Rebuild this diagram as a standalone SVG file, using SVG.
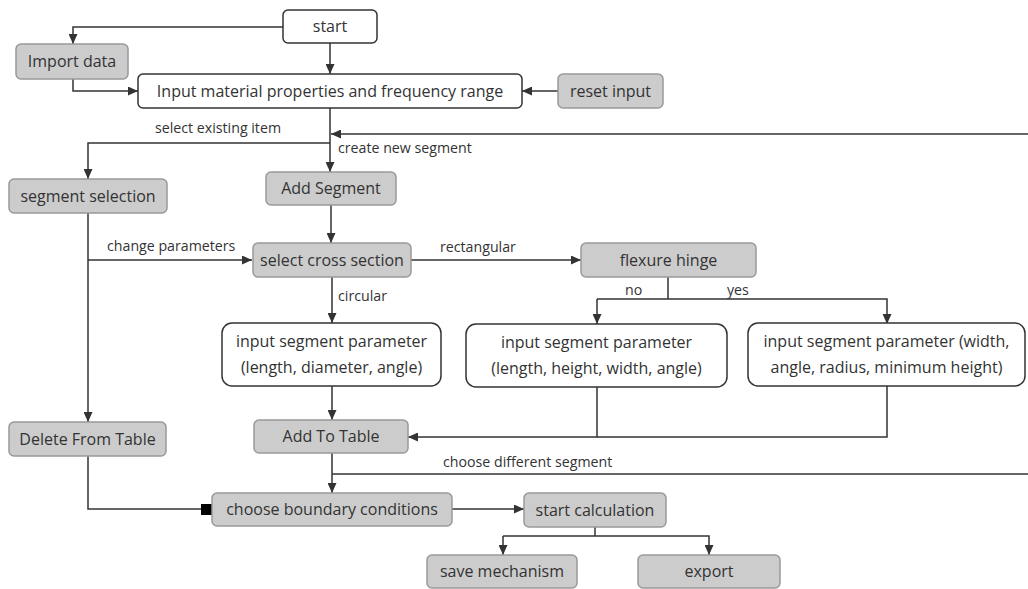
<svg xmlns="http://www.w3.org/2000/svg" width="1028" height="589" viewBox="0 0 1028 589">
<defs>
<style>
.w{fill:#ffffff;stroke:#333333;stroke-width:1.5}
.g{fill:#cccccc;stroke:#999999;stroke-width:1.5}
.t{font-family:"Open Sans","Noto Sans",sans-serif;font-size:16px;fill:#333333;text-anchor:middle}
.l{font-family:"Open Sans","Noto Sans",sans-serif;font-size:14.2px;fill:#333333}
.c{fill:none;stroke:#333333;stroke-width:1.5}
.a{marker-end:url(#arr)}
</style>
<marker id="arr" markerUnits="userSpaceOnUse" markerWidth="10" markerHeight="9" refX="10" refY="4.5" orient="auto">
<path d="M0,0 L10,4.5 L0,9 z" fill="#333333"/>
</marker>
</defs>
<rect width="1028" height="589" fill="#ffffff"/>
<g id="connectors">
<path class="c a" d="M283,27 H73 V44"/>
<path class="c a" d="M330,43 V74"/>
<path class="c a" d="M73,79 V91 H138"/>
<path class="c a" d="M558,91 H522"/>
<path class="c a" d="M330,108 V172"/>
<path class="c a" d="M1028,134 H331"/>
<path class="c a" d="M330,143 H88 V179"/>
<path class="c a" d="M88,213 V422"/>
<path class="c a" d="M88,260 H252"/>
<path class="c a" d="M331,205 V243"/>
<path class="c a" d="M411,260 H581"/>
<path class="c a" d="M332,277 V323"/>
<path class="c" d="M668,277 V299"/>
<path class="c a" d="M597,299 H887 V324"/>
<path class="c a" d="M597,299 V324"/>
<path class="c a" d="M332,386 V420"/>
<path class="c a" d="M597,387 V437 H408"/>
<path class="c" d="M887,386 V437 H597"/>
<path class="c a" d="M332,453 V493"/>
<path class="c" d="M332,474 H1028"/>
<path class="c" d="M88,456 V509 H201"/>
<rect x="201" y="504" width="11" height="11" fill="#000000"/>
<path class="c a" d="M452,509 H524"/>
<path class="c" d="M595,527 V536"/>
<path class="c a" d="M503,536 V555"/>
<path class="c a" d="M503,536 H709 V555"/>
<text class="l" x="155" y="133">select existing item</text>
<text class="l" x="338" y="153">create new segment</text>
<text class="l" x="107" y="251">change parameters</text>
<text class="l" x="440" y="252">rectangular</text>
<text class="l" x="338" y="301">circular</text>
<text class="l" x="625" y="295">no</text>
<text class="l" x="727" y="295">yes</text>
<text class="l" x="443" y="467">choose different segment</text>
</g>
<g id="start"><rect class="w" x="283" y="10" width="94" height="33" rx="5"/><text class="t" x="330" y="32">start</text></g>
<g id="import"><rect class="g" x="16" y="44" width="112" height="35" rx="5"/><text class="t" x="72" y="67">Import data</text></g>
<g id="input"><rect class="w" x="138" y="74" width="384" height="34" rx="5"/><text class="t" x="330" y="96.5">Input material properties and frequency range</text></g>
<g id="reset"><rect class="g" x="558" y="74" width="105" height="34" rx="5"/><text class="t" x="610.5" y="96.5">reset input</text></g>
<g id="segsel"><rect class="g" x="9" y="179" width="158" height="34" rx="5"/><text class="t" x="88" y="201.5">segment selection</text></g>
<g id="addseg"><rect class="g" x="266" y="172" width="130" height="33" rx="5"/><text class="t" x="331" y="194">Add Segment</text></g>
<g id="cross"><rect class="g" x="253" y="243" width="158" height="34" rx="5"/><text class="t" x="332" y="265.5">select cross section</text></g>
<g id="flex"><rect class="g" x="581" y="243" width="175" height="34" rx="5"/><text class="t" x="668.5" y="265.5">flexure hinge</text></g>
<g id="circ"><rect class="w" x="222" y="323" width="219" height="63" rx="10"/><text class="t" x="331.5" y="346.5">input segment parameter</text><text class="t" x="331.5" y="372.5">(length, diameter, angle)</text></g>
<g id="rectno"><rect class="w" x="466" y="324" width="261" height="63" rx="10"/><text class="t" x="596.5" y="347.5">input segment parameter</text><text class="t" x="596.5" y="373.5">(length, height, width, angle)</text></g>
<g id="rectyes"><rect class="w" x="748" y="323" width="277" height="63" rx="10"/><text class="t" x="886.5" y="346.5">input segment parameter (width,</text><text class="t" x="886.5" y="372.5">angle, radius, minimum height)</text></g>
<g id="delete"><rect class="g" x="9" y="422" width="157" height="34" rx="5"/><text class="t" x="87.5" y="444.5">Delete From Table</text></g>
<g id="addtable"><rect class="g" x="254" y="420" width="154" height="33" rx="5"/><text class="t" x="331" y="442">Add To Table</text></g>
<g id="boundary"><rect class="g" x="212" y="493" width="240" height="33" rx="5"/><text class="t" x="332" y="515">choose boundary conditions</text></g>
<g id="calc"><rect class="g" x="524" y="493" width="142" height="34" rx="5"/><text class="t" x="595" y="515.5">start calculation</text></g>
<g id="save"><rect class="g" x="427" y="555" width="150" height="33" rx="5"/><text class="t" x="502" y="577">save mechanism</text></g>
<g id="export"><rect class="g" x="638" y="555" width="142" height="33" rx="5"/><text class="t" x="709" y="577">export</text></g>
</svg>
